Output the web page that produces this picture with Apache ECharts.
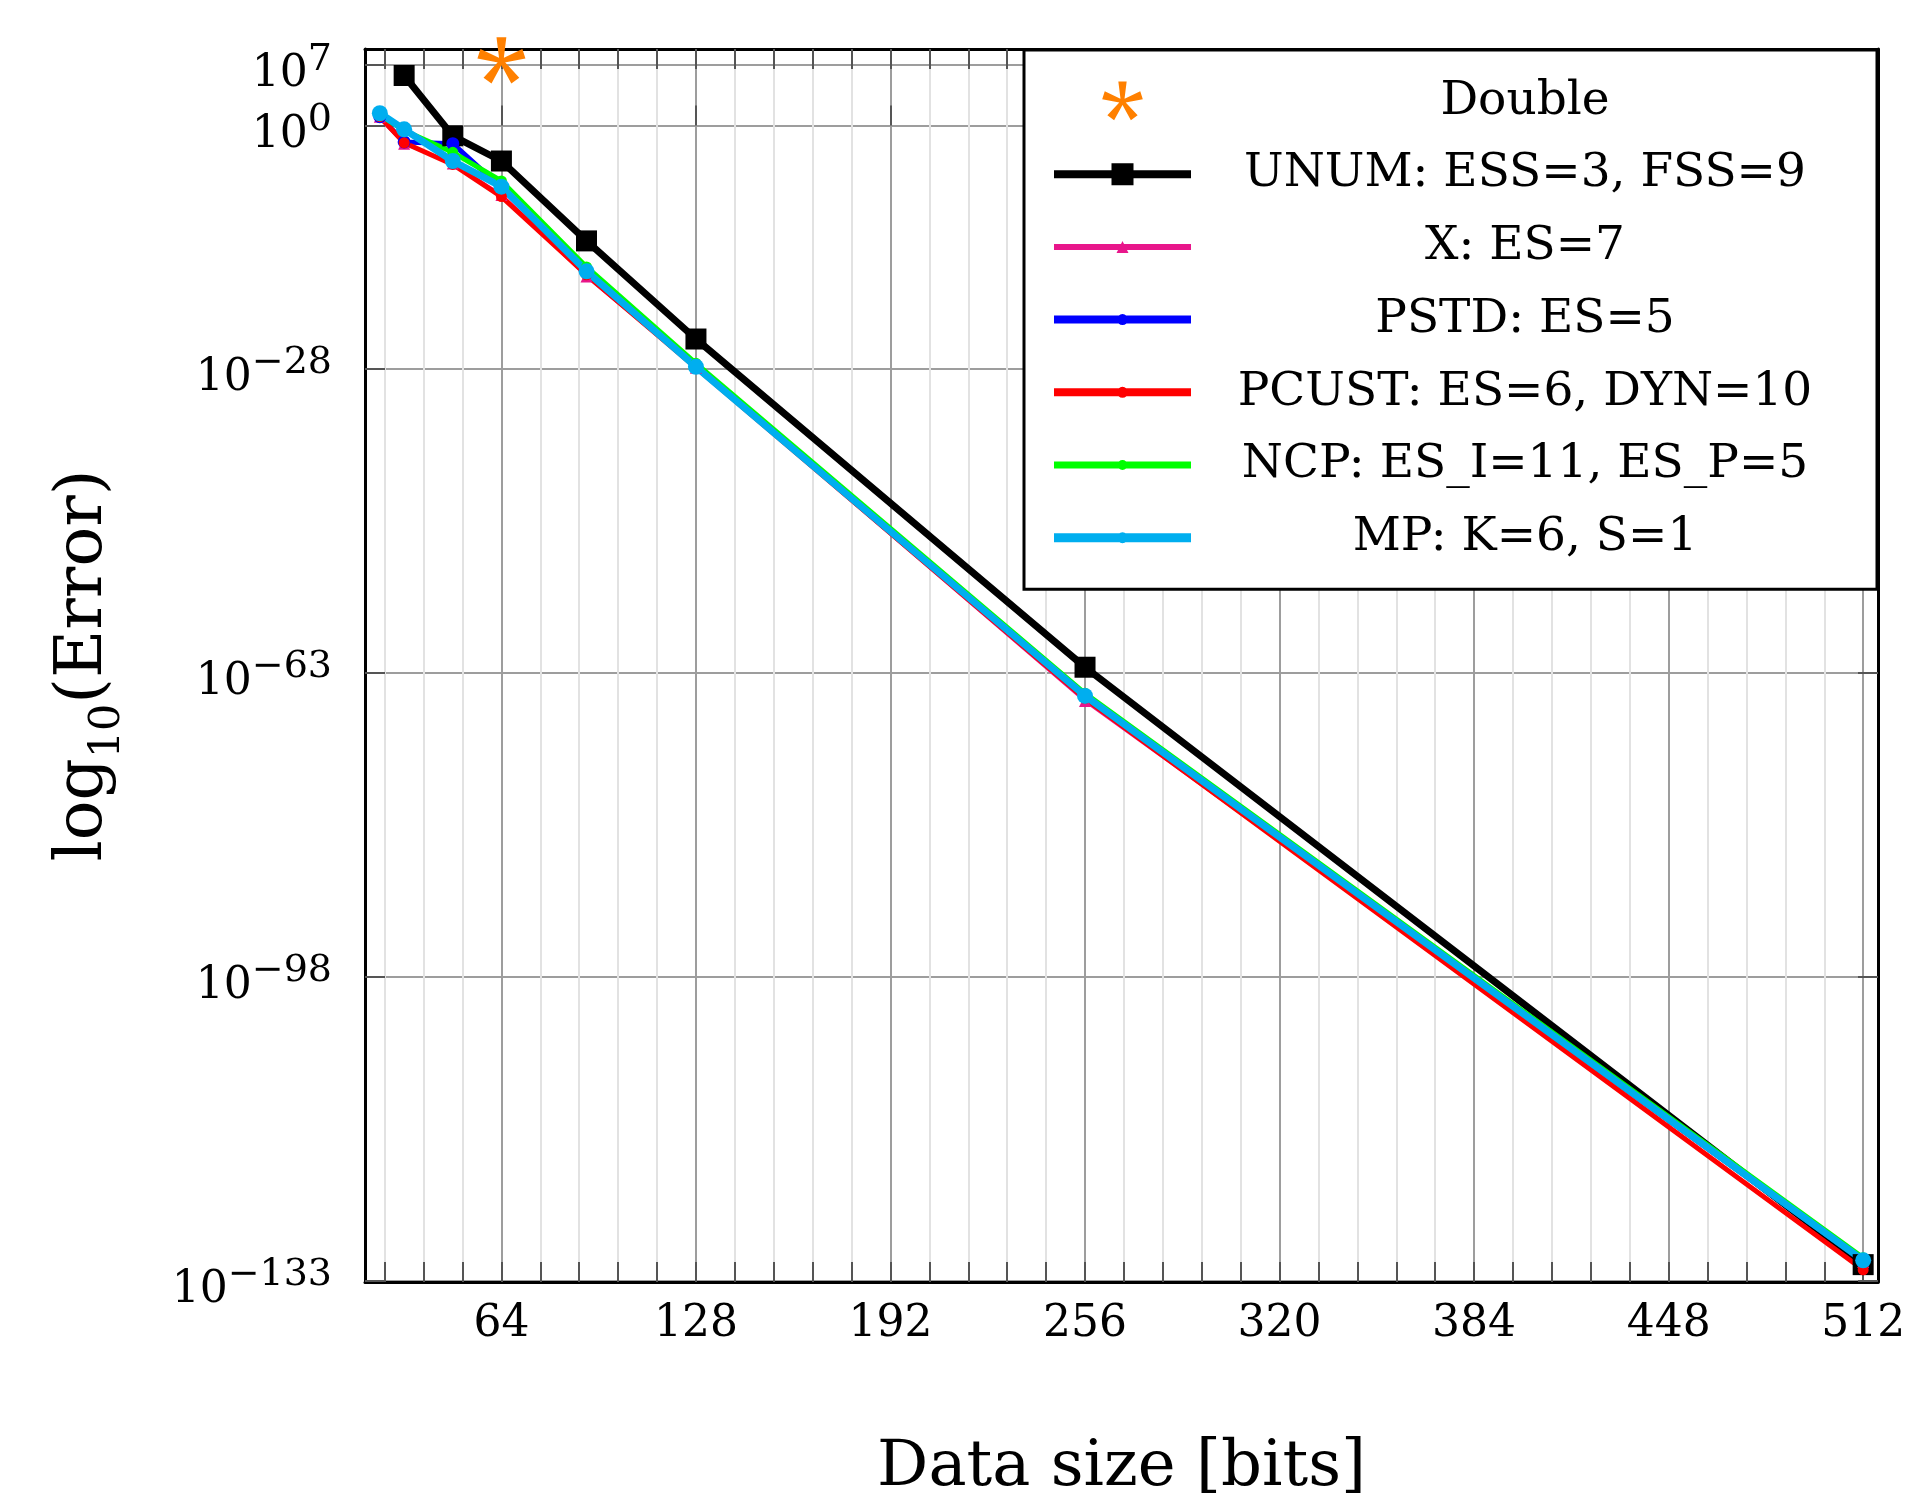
<!DOCTYPE html>
<html>
<head>
<meta charset="utf-8">
<script src="https://cdn.jsdelivr.net/npm/echarts@6.0.0/dist/echarts.min.js"></script>
<style>
  html, body { margin: 0; padding: 0; background: #fff; }
  #chart { width: 1921px; height: 1501px; }
</style>
</head>
<body>
<div id="chart"></div>
<script>
// data size [bits] and log10(error)
var bits = [24, 32, 48, 64, 92, 128, 256, 512];
var unumBits = [32, 48, 64, 92, 128, 256, 512];
var unumErr = [5.75, -1.2, -4.1, -13.3, -24.6, -62.4, -131.2];
var xErr = [1.0, -2.1, -4.4, -8.0, -17.4, -27.9, -66.3, -130.9];
var pstdErr = [1.0, -1.9, -2.1, -7.2, -16.9, -27.8, -65.8, -130.8];
var pcustErr = [1.0, -2.0, -4.5, -8.2, -17.2, -27.9, -66.0, -131.8];
var ncpErr = [1.2, -0.6, -3.1, -6.4, -16.3, -27.4, -65.4, -130.4];
var mpErr = [1.4, -0.45, -4.1, -7.05, -16.8, -27.8, -65.7, -130.7];
var doubleBits = [64];
var doubleErr = [7.4];

var xMajorTicks = [64, 128, 192, 256, 320, 384, 448, 512];
var yTicks = [-133, -98, -63, -28, 0, 7];

var X_MIN = 19.12, X_MAX = 516.88;
var Y_MIN = -133.2, Y_MAX = 8.8;
var FONT = 'DejaVu Serif';

// minor grid every 64/5
var xAllTicks = [];
for (var k = 2; k <= 40; k++) xAllTicks.push(+(k * 12.8).toFixed(1));

function pairs(xs, ys) {
  return xs.map(function (x, i) { return [x, ys[i]]; });
}

// pgfplots-like 5 arm asterisk
function asteriskPath() {
  var R = 24, wb = 4, wt = 10, p = '';
  for (var a = 0; a < 5; a++) {
    var t = a * 72 * Math.PI / 180;
    var dx = Math.sin(t), dy = -Math.cos(t);
    var px = -dy, py = dx;
    var pts = [
      [px * wb / 2, py * wb / 2],
      [dx * R + px * wt / 2, dy * R + py * wt / 2],
      [dx * R - px * wt / 2, dy * R - py * wt / 2],
      [-px * wb / 2, -py * wb / 2]
    ];
    p += 'M' + pts.map(function (q) { return q[0].toFixed(2) + ',' + q[1].toFixed(2); }).join('L') + 'Z';
  }
  // keep the box centred on the star
  p += 'M0,24L0.01,24Z';
  return 'path://' + p;
}

// legend sample: line + marker in one path (all clockwise so nothing gets punched out)
function legendIcon(lw, shape, s) {
  var W = 137, c = W / 2, h = lw / 2, p = 'M0,' + (-h) + 'L' + W + ',' + (-h) + 'L' + W + ',' + h + 'L0,' + h + 'Z';
  if (shape === 'rect') {
    p += 'M' + (c - s / 2) + ',' + (-s / 2) + 'L' + (c + s / 2) + ',' + (-s / 2) + 'L' + (c + s / 2) + ',' + (s / 2) + 'L' + (c - s / 2) + ',' + (s / 2) + 'Z';
  } else if (shape === 'triangle') {
    p += 'M' + c + ',' + (-s / 2) + 'L' + (c + s / 2) + ',' + (s / 2) + 'L' + (c - s / 2) + ',' + (s / 2) + 'Z';
  } else {
    var r = s / 2;
    p += 'M' + (c - r) + ',0A' + r + ',' + r + ',0,1,1,' + (c + r) + ',0A' + r + ',' + r + ',0,1,1,' + (c - r) + ',0Z';
  }
  return 'path://' + p;
}

function supLabel(v) {
  var n = v < 0 ? '\u2212' + (-v) : String(v);
  return '{b|10}{s|' + n + '}';
}

var STAR = asteriskPath();

function lineSeries(name, xs, ys, color, width, symbol, size) {
  return {
    name: name,
    type: 'line',
    data: pairs(xs, ys),
    color: color,
    symbol: symbol,
    symbolSize: size,
    showSymbol: true,
    clip: false,
    lineStyle: { color: color, width: width },
    itemStyle: { color: color, borderWidth: 0, opacity: 1 },
    emphasis: { disabled: true }
  };
}

var axisTickStyle = { show: true, inside: true, length: 20, lineStyle: { color: '#555', width: 2 } };
var blackLine = { show: true, onZero: false, lineStyle: { color: '#000', width: 3 } };

var chart = echarts.init(document.getElementById('chart'), null, { renderer: 'canvas' });

var option = {
  animation: false,
  backgroundColor: '#fff',
  textStyle: { fontFamily: FONT },
  grid: {
    left: 365, top: 49, right: 43, bottom: 219,
    containLabel: false,
    outerBoundsMode: 'none'
  },
  xAxis: [
    {
      type: 'value', position: 'bottom', min: X_MIN, max: X_MAX,
      axisLine: blackLine,
      axisTick: Object.assign({ customValues: xAllTicks }, axisTickStyle),
      axisLabel: {
        customValues: xMajorTicks, fontSize: 44, fontFamily: FONT, color: '#000', margin: 21,
        showMinLabel: true, showMaxLabel: true, hideOverlap: false,
        formatter: function (v) { return String(v); }
      },
      splitLine: { show: true, lineStyle: { color: '#e2e2e2', width: 2 } },
      name: 'Data size [bits]',
      nameLocation: 'middle',
      nameGap: 154,
      nameTextStyle: { fontSize: 64, fontFamily: FONT, color: '#000' }
    },
    {
      type: 'value', position: 'top', min: X_MIN, max: X_MAX,
      axisLine: blackLine,
      axisTick: Object.assign({ customValues: xAllTicks }, axisTickStyle),
      axisLabel: { show: false },
      splitLine: { show: false }
    },
    {
      type: 'value', position: 'bottom', min: X_MIN, max: X_MAX,
      axisLine: { show: false },
      axisTick: Object.assign({ customValues: xMajorTicks }, axisTickStyle),
      axisLabel: { show: false },
      splitLine: { show: true, lineStyle: { color: '#9d9d9d', width: 2 } }
    }
  ],
  yAxis: [
    {
      type: 'value', position: 'left', min: Y_MIN, max: Y_MAX,
      axisLine: blackLine,
      axisTick: Object.assign({ customValues: yTicks }, axisTickStyle),
      axisLabel: {
        customValues: yTicks, margin: 33, color: '#000',
        showMinLabel: true, showMaxLabel: true, hideOverlap: false,
        padding: [20, 0, 0, 0],
        formatter: supLabel,
        rich: {
          b: { fontSize: 44, fontFamily: FONT, color: '#000', lineHeight: 44, verticalAlign: 'bottom' },
          s: { fontSize: 38, fontFamily: FONT, color: '#000', lineHeight: 38, verticalAlign: 'bottom', padding: [0, 0, 18, 0] }
        }
      },
      splitLine: { show: true, lineStyle: { color: '#9d9d9d', width: 2 } },
      name: '{a|log}{u|10}{a|(Error)}',
      nameLocation: 'middle',
      nameGap: 236,
      nameTextStyle: {
        rich: {
          a: { fontSize: 66, fontFamily: FONT, color: '#000', verticalAlign: 'bottom', padding: [0, 0, 12, 0] },
          u: { fontSize: 43, fontFamily: FONT, color: '#000', verticalAlign: 'bottom' }
        }
      }
    },
    {
      type: 'value', position: 'right', min: Y_MIN, max: Y_MAX,
      axisLine: blackLine,
      axisTick: Object.assign({ customValues: yTicks }, axisTickStyle),
      axisLabel: { show: false },
      splitLine: { show: false }
    }
  ],
  legend: {
    orient: 'vertical',
    left: 1024,
    top: 50,
    padding: [28, 23, 28, 30],
    itemWidth: 137,
    itemHeight: 40,
    itemGap: 25.7,
    itemTextGap: 5,
    selectedMode: false,
    symbolKeepAspect: true,
    backgroundColor: '#fff',
    borderColor: '#000',
    borderWidth: 3,
    borderRadius: 0,
    itemStyle: { borderWidth: 0 },
    formatter: function (name) { return '{t|' + name + '}'; },
    textStyle: {
      rich: {
        t: { width: 658, align: 'center', fontSize: 47, lineHeight: 40, fontFamily: FONT, color: '#000' }
      }
    },
    data: [
      { name: 'Double', icon: STAR },
      { name: 'UNUM: ESS=3, FSS=9', icon: legendIcon(8, 'rect', 22) },
      { name: 'X: ES=7', icon: legendIcon(6, 'triangle', 12) },
      { name: 'PSTD: ES=5', icon: legendIcon(8, 'circle', 11) },
      { name: 'PCUST: ES=6, DYN=10', icon: legendIcon(8, 'circle', 11) },
      { name: 'NCP: ES_I=11, ES_P=5', icon: legendIcon(7, 'circle', 10) },
      { name: 'MP: K=6, S=1', icon: legendIcon(9, 'circle', 11) }
    ]
  },
  series: [
    {
      name: 'Double',
      type: 'scatter',
      data: pairs(doubleBits, doubleErr),
      symbol: STAR,
      symbolSize: 48,
      clip: false,
      color: '#FF8000',
      itemStyle: { color: '#FF8000', borderWidth: 0, opacity: 1 },
      emphasis: { disabled: true }
    },
    lineSeries('UNUM: ESS=3, FSS=9', unumBits, unumErr, '#000000', 7, 'rect', 21),
    lineSeries('X: ES=7', bits, xErr, '#E8168B', 3, 'triangle', 12),
    lineSeries('PSTD: ES=5', bits, pstdErr, '#0000FF', 5, 'circle', 13),
    lineSeries('PCUST: ES=6, DYN=10', bits, pcustErr, '#FF0000', 5, 'circle', 11),
    lineSeries('NCP: ES_I=11, ES_P=5', bits, ncpErr, '#00FF00', 5, 'circle', 11),
    lineSeries('MP: K=6, S=1', bits, mpErr, '#00AEEF', 7, 'circle', 16)
  ]
};

chart.setOption(option);
</script>
</body>
</html>
